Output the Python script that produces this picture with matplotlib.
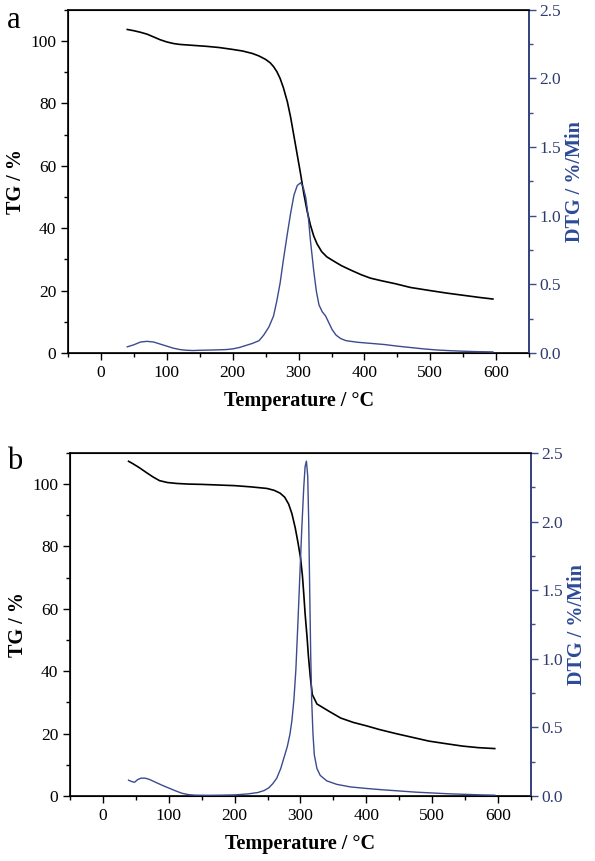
import matplotlib
matplotlib.use("Agg")
import matplotlib.pyplot as plt
from matplotlib.ticker import MultipleLocator, FormatStrFormatter

plt.rcParams['font.family'] = ['Liberation Serif', 'DejaVu Serif']

# ---- panel a ----
tg_a_t = [40, 50, 60, 70, 80, 90, 100, 110, 120, 140, 160, 180, 200, 215, 230,
          240, 250, 257, 262, 267, 272, 277, 283, 288, 293, 298, 303, 308, 313,
          318, 323, 328, 335, 343, 353, 365, 379, 395, 409, 425, 447, 470, 500,
          525, 550, 575, 595]
tg_a = [103.7, 103.3, 102.8, 102.2, 101.3, 100.4, 99.7, 99.2, 98.9, 98.6, 98.3,
        97.9, 97.3, 96.8, 96.0, 95.2, 94.1, 93.0, 91.8, 90.2, 88.0, 85.0, 80.5,
        75.5, 69.5, 63.5, 57.5, 51.0, 45.5, 41.0, 37.5, 35.0, 32.5, 30.8, 29.5,
        28.0, 26.6, 25.1, 24.0, 23.2, 22.2, 21.0, 20.0, 19.2, 18.5, 17.8, 17.3]

dtg_a_t = [40, 50, 60, 70, 80, 90, 100, 110, 120, 130, 140, 150, 170, 190, 200,
           210, 220, 230, 240, 247, 255, 262, 267, 272, 277, 283, 288, 293, 298,
           303, 307, 311, 315, 318, 323, 327, 331, 336, 341, 346, 351, 357, 364,
           372, 390, 410, 430, 450, 470, 490, 510, 530, 550, 570, 595]
dtg_a = [0.045, 0.06, 0.08, 0.085, 0.08, 0.065, 0.05, 0.035, 0.025, 0.02, 0.018,
         0.02, 0.022, 0.025, 0.03, 0.04, 0.055, 0.07, 0.09, 0.13, 0.19, 0.27,
         0.38, 0.51, 0.68, 0.87, 1.02, 1.15, 1.22, 1.24, 1.21, 1.13, 0.98, 0.82,
         0.60, 0.45, 0.35, 0.30, 0.27, 0.22, 0.17, 0.13, 0.105, 0.09, 0.078,
         0.07, 0.062, 0.05, 0.04, 0.03, 0.022, 0.017, 0.013, 0.01, 0.008]

# ---- panel b ----
tg_b_t = [39, 45, 55, 66, 76, 86, 98, 112, 130, 150, 175, 200, 225, 249, 260,
          269, 276, 282, 287, 292, 296, 300, 303, 305, 307, 310, 312, 315, 318,
          325, 343, 361, 380, 400, 420, 445, 470, 495, 520, 546, 570, 595]
tg_b = [107.3, 106.6, 105.3, 103.7, 102.3, 101.1, 100.5, 100.2, 100.0, 99.9,
        99.7, 99.5, 99.1, 98.6, 98.0, 97.1, 95.8, 93.6, 90.5, 86.0, 81.5, 76.5,
        70.5, 64.8, 58.5, 50.9, 45.0, 38.0, 32.5, 29.5, 27.2, 25.0, 23.6, 22.5,
        21.3, 20.0, 18.8, 17.6, 16.8, 16.0, 15.5, 15.2]

dtg_b_t = [39, 44, 48, 53, 58, 64, 70, 80, 90, 100, 110, 120, 130, 140, 160,
           180, 200, 220, 235, 245, 252, 258, 264, 270, 275, 280, 284, 287, 290,
           293, 296, 299, 302, 305, 307, 309, 311, 312.5, 314, 315.5, 317, 319,
           321, 325, 330, 340, 355, 376, 400, 425, 452, 475, 500, 525, 550, 575,
           595]
dtg_b = [0.115, 0.105, 0.10, 0.12, 0.13, 0.13, 0.122, 0.10, 0.078, 0.058,
         0.038, 0.02, 0.01, 0.006, 0.005, 0.006, 0.008, 0.015, 0.025, 0.04,
         0.06, 0.09, 0.13, 0.2, 0.28, 0.36, 0.45, 0.55, 0.7, 0.92, 1.25, 1.6,
         1.95, 2.25, 2.4, 2.44, 2.33, 2.0, 1.5, 1.04, 0.7, 0.45, 0.3, 0.2, 0.15,
         0.11, 0.085, 0.066, 0.055, 0.045, 0.036, 0.028, 0.022, 0.016, 0.012,
         0.008, 0.006]

BLUE = '#3c4a8e'
BLUE_LABEL = '#2c4a96'
BLUE_TICK = '#2f3b6e'


def draw_panel(fig, rect, t_tg, tg, t_dtg, dtg):
    ax = fig.add_axes(rect)
    ax.plot(t_tg, tg, color='black', lw=1.2)
    ax.set_xlim(-50, 650)
    ax.set_ylim(0, 110)
    ax.xaxis.set_major_locator(MultipleLocator(100))
    ax.xaxis.set_minor_locator(MultipleLocator(50))
    ax.yaxis.set_major_locator(MultipleLocator(20))
    ax.yaxis.set_minor_locator(MultipleLocator(10))
    ax.tick_params(which='both', direction='out', top=False, right=False,
                   labelsize=12.5, width=1)
    ax.tick_params(which='major', length=5)
    ax.tick_params(which='minor', length=3)
    ax.set_xlabel('Temperature / °C', fontsize=14.5, fontweight='bold', labelpad=7)
    ax.set_ylabel('TG / %', fontsize=14.5, fontweight='bold', labelpad=3)
    for s in ax.spines.values():
        s.set_linewidth(1.2)

    ax2 = ax.twinx()
    ax2.plot(t_dtg, dtg, color=BLUE, lw=1.0)
    ax2.set_ylim(0, 2.5)
    ax2.yaxis.set_major_locator(MultipleLocator(0.5))
    ax2.yaxis.set_minor_locator(MultipleLocator(0.25))
    ax2.yaxis.set_major_formatter(FormatStrFormatter('%.1f'))
    ax2.tick_params(which='both', direction='out', colors=BLUE,
                    labelcolor=BLUE_TICK, labelsize=12.5, width=1, pad=2.5)
    ax2.tick_params(which='major', length=5)
    ax2.tick_params(which='minor', length=3)
    ax2.spines['right'].set_color(BLUE)
    ax2.spines['right'].set_linewidth(1.2)
    ax2.set_ylabel('DTG / %/Min', fontsize=14.5, fontweight='bold',
                   color=BLUE_LABEL, labelpad=3)
    return ax, ax2


fig = plt.figure(figsize=(5.95, 8.61), dpi=100)

draw_panel(fig, [0.1143, 0.590, 0.775, 0.3986], tg_a_t, tg_a, dtg_a_t, dtg_a)
draw_panel(fig, [0.1176, 0.0755, 0.7748, 0.3985], tg_b_t, tg_b, dtg_b_t, dtg_b)

fig.text(0.012, 0.9675, 'a', fontsize=22, va='baseline')
fig.text(0.012, 0.4553, 'b', fontsize=22, va='baseline')

fig.savefig('out.png', dpi=100)
